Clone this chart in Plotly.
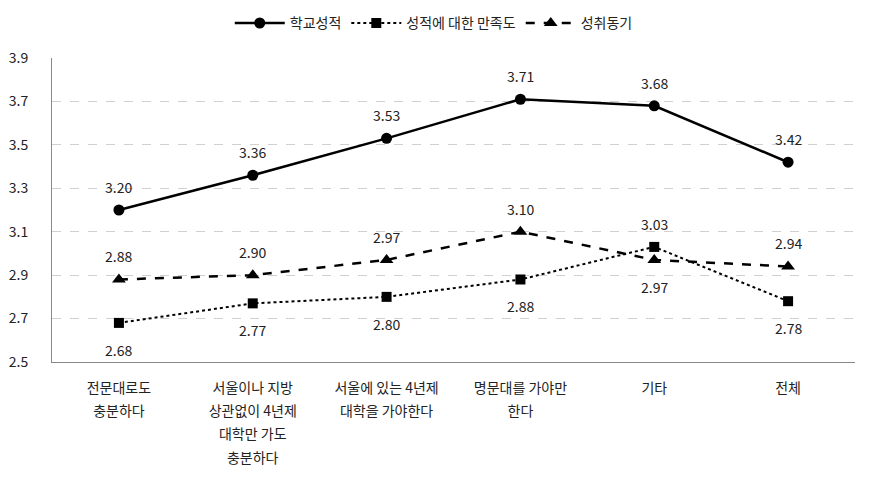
import plotly.graph_objects as go

categories = ["전문대로도<br>충분하다", "서울이나 지방<br>상관없이 4년제<br>대학만 가도<br>충분하다",
              "서울에 있는 4년제<br>대학을 가야한다", "명문대를 가야만<br>한다", "기타", "전체"]
grades = [3.20, 3.36, 3.53, 3.71, 3.68, 3.42]
satisfaction = [2.68, 2.77, 2.80, 2.88, 3.03, 2.78]
motivation = [2.88, 2.90, 2.97, 3.10, 2.97, 2.94]
sat_label_side = ["below", "below", "below", "below", "above", "below"]
mot_label_side = ["above", "above", "above", "above", "below", "above"]
y_ticks = [2.5, 2.7, 2.9, 3.1, 3.3, 3.5, 3.7, 3.9]

FONT = "Noto Sans CJK KR, Malgun Gothic, sans-serif"
x = list(range(len(categories)))


def small_lines(label):
    return "<br>".join(f'<span style="font-size:14px">{p}</span>' for p in label.split("<br>"))


fig = go.Figure()
fig.add_trace(go.Scatter(x=x, y=grades, name="학교성적", mode="lines+markers",
                         line=dict(color="black", width=2.5),
                         marker=dict(symbol="circle", size=11, color="black")))
fig.add_trace(go.Scatter(x=x, y=satisfaction, name="성적에 대한 만족도", mode="lines+markers",
                         line=dict(color="black", width=2, dash="dot"),
                         marker=dict(symbol="square", size=10, color="black")))
fig.add_trace(go.Scatter(x=x, y=motivation, name="성취동기", mode="lines+markers",
                         line=dict(color="black", width=2.5, dash="dash"),
                         marker=dict(symbol="triangle-up", size=12, color="black")))

annotations = []
for i, v in enumerate(grades):
    annotations.append(dict(x=i, y=v, text=f"{v:.2f}", showarrow=False, yshift=23))
for i, v in enumerate(satisfaction):
    annotations.append(dict(x=i, y=v, text=f"{v:.2f}", showarrow=False,
                            yshift=23 if sat_label_side[i] == "above" else -27))
for i, v in enumerate(motivation):
    annotations.append(dict(x=i, y=v, text=f"{v:.2f}", showarrow=False,
                            yshift=23 if mot_label_side[i] == "above" else -27))
for a in annotations:
    a["font"] = dict(family=FONT, size=14, color="#222")

fig.update_layout(
    width=871, height=493,
    margin=dict(l=52, r=16, t=58, b=131, autoexpand=False),
    plot_bgcolor="white", paper_bgcolor="white",
    font=dict(family=FONT, size=14, color="#222"),
    annotations=annotations,
    showlegend=True,
    legend=dict(orientation="h", x=0.498, xref="container", xanchor="center",
                y=0.985, yref="container", yanchor="top", font=dict(size=14),
                itemwidth=50, tracegroupgap=0),
    xaxis=dict(tickmode="array", tickvals=x, ticktext=[small_lines(c) for c in categories],
               range=[-0.5, 5.5], automargin=False,
               showgrid=False, showline=True, linecolor="#888", linewidth=1,
               ticks="", zeroline=False, tickfont=dict(size=18), ticklabelstandoff=8),
    yaxis=dict(range=[2.5, 3.9], tickmode="array", tickvals=y_ticks,
               ticktext=[f"{t:.1f}" for t in y_ticks], automargin=False,
               showgrid=True, gridcolor="#d0d0d0", griddash="dash", gridwidth=1,
               showline=True, linecolor="#888", linewidth=1, ticks="",
               zeroline=False, tickfont=dict(size=14), ticklabelstandoff=20),
)
fig.write_html("out.html", config={"displayModeBar": False},
               post_script="document.body.style.margin='0';")
